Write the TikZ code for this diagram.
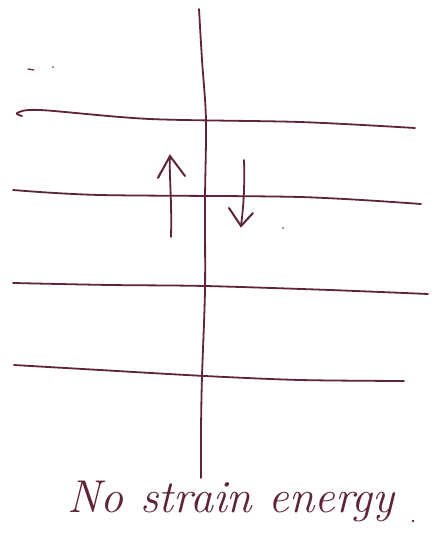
\documentclass[tikz,border=0pt]{standalone}
\usepackage{fontspec}
\setmainfont{Latin Modern Roman}
\definecolor{ink}{HTML}{5E2535}
\begin{document}
\begin{tikzpicture}[x=1pt,y=-1pt,
  pen/.style={draw=ink,line width=1.8pt,line cap=round,line join=round},
  barb/.style={draw=ink,line width=2pt,line cap=round}]
\useasboundingbox (0,0) rectangle (432,549);
% vertical line
\draw[pen] plot[smooth] coordinates {(199,9) (202,60) (206,120) (205,200) (205,290) (202,376) (201,430) (201,478)};
% horizontal lines
\draw[pen] plot[smooth] coordinates {(22,116) (17,113) (40,110) (150,119) (300,122) (415,128)};
\draw[pen] plot[smooth] coordinates {(13,190) (100,195) (300,197) (421,204)};
\draw[pen] plot[smooth] coordinates {(13,283) (110,285) (205,286) (330,290) (428,294)};
\draw[pen] plot[smooth] coordinates {(14,365) (100,370) (205,376) (300,380) (404,381)};
% small marks
\draw[pen,line width=1.2pt] (28,69) -- (34,70);
\fill[ink] (53,67) circle (0.9);
\fill[ink] (283,228) circle (0.8);
% up arrow
\coordinate (ua) at (171,237);
\coordinate (ub) at (170,156);
\draw[pen] (ua) .. controls (172,200) and (169,175) .. (ub);
\draw[barb] (158,178) -- (ub) -- (185,176);
\fill[ink] (ub) -- (157,177) -- (163,168) -- cycle;
% down arrow
\coordinate (da) at (244,160);
\coordinate (db) at (241,226);
\draw[pen] (da) .. controls (245,190) and (243,210) .. (db);
\draw[barb] (229,208) -- (db) -- (253,213);
% text
\node[ink,font=\fontsize{46}{46}\selectfont\itshape,anchor=base west] (lbl) at (64,512) {No strain energy};
\fill[ink] (413,521) circle (1.3);
\end{tikzpicture}
\end{document}
